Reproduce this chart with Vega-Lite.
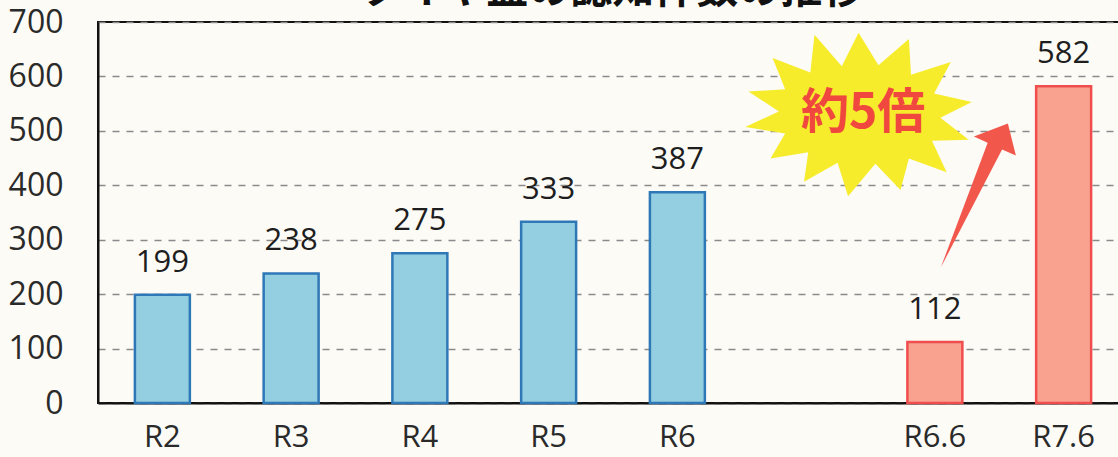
{
  "$schema": "https://vega.github.io/schema/vega-lite/v6.json",
  "autosize": "none",
  "width": 1030,
  "height": 381,
  "padding": {"left": 98, "top": 22, "right": 0, "bottom": 54},
  "background": "#fcfbf6",
  "title": {
    "text": "タイヤ盗の認知件数の推移",
    "font": "Noto Sans CJK JP",
    "fontSize": 42,
    "fontWeight": "bold",
    "color": "#111111",
    "anchor": "middle",
    "baseline": "alphabetic",
    "offset": -39
  },
  "config": {
    "view": {"stroke": "#111111", "strokeWidth": 2},
    "axis": {"labelFont": "Open Sans", "labelColor": "#2a2a2a"}
  },
  "datasets": {
    "bars": [
      {"cat": "R2", "value": 199, "group": "annual"},
      {"cat": "R3", "value": 238, "group": "annual"},
      {"cat": "R4", "value": 275, "group": "annual"},
      {"cat": "R5", "value": 333, "group": "annual"},
      {"cat": "R6", "value": 387, "group": "annual"},
      {"cat": "R6.6", "value": 112, "group": "half"},
      {"cat": "R7.6", "value": 582, "group": "half"}
    ],
    "star": [{"cat": "gap", "value": 530, "label": "約5倍"}],
    "arrow": [{"cat": "R6.6", "value": 400}]
  },
  "encoding": {
    "x": {
      "field": "cat",
      "type": "nominal",
      "scale": {"domain": ["R2", "R3", "R4", "R5", "R6", "gap", "R6.6", "R7.6"], "paddingInner": 0.573, "paddingOuter": 0.2865},
      "axis": {
        "title": null,
        "labelAngle": 0,
        "ticks": false,
        "labelFontSize": 31,
        "labelPadding": 19,
        "domainColor": "#111111",
        "domainWidth": 2,
        "labelExpr": "datum.value == 'gap' ? '' : datum.value"
      }
    },
    "y": {
      "field": "value",
      "type": "quantitative",
      "scale": {"domain": [0, 700], "nice": false},
      "axis": {
        "title": null,
        "values": [0, 100, 200, 300, 400, 500, 600, 700],
        "ticks": false,
        "labelFontSize": 32,
        "labelPadding": 35,
        "domainColor": "#111111",
        "domainWidth": 2,
        "gridColor": "#8a8a8a",
        "gridDash": [7, 7],
        "gridWidth": 1.3
      }
    }
  },
  "layer": [
    {
      "data": {"name": "bars"},
      "mark": {"type": "bar", "strokeWidth": 2.5},
      "encoding": {
        "fill": {"field": "group", "type": "nominal", "scale": {"domain": ["annual", "half"], "range": ["#93cfe0", "#f9a290"]}, "legend": null},
        "stroke": {"field": "group", "type": "nominal", "scale": {"domain": ["annual", "half"], "range": ["#2f78b8", "#f04e4e"]}, "legend": null}
      }
    },
    {
      "data": {"name": "bars"},
      "mark": {"type": "text", "font": "Open Sans", "fontSize": 31, "baseline": "alphabetic", "dy": -23, "color": "#1e1e1e"},
      "encoding": {"text": {"field": "value", "type": "quantitative"}}
    },
    {
      "data": {"name": "star"},
      "mark": {
        "type": "point",
        "filled": true,
        "opacity": 1,
        "fill": "#f7ec2b",
        "strokeWidth": 0,
        "size": 44000,
        "shape": "M0.5,-0.78 L0.69,-0.47 L0.98,-0.72 L1.0,-0.38 L1.38,-0.5 L1.22,-0.2 L1.58,-0.12 L1.28,0.03 L1.55,0.24 L1.2,0.25 L1.34,0.55 L0.98,0.42 L0.9,0.72 L0.66,0.47 L0.4,0.78 L0.3,0.46 L-0.02,0.64 L0.02,0.36 L-0.34,0.42 L-0.2,0.18 L-0.58,0.12 L-0.26,-0.03 L-0.55,-0.22 L-0.2,-0.24 L-0.32,-0.54 L0.04,-0.4 L0.08,-0.76 L0.34,-0.46 Z"
      },
      "encoding": {}
    },
    {
      "data": {"name": "star"},
      "mark": {"type": "text", "font": "Noto Sans CJK JP", "fontWeight": "bold", "fontSize": 48, "color": "#f0473f", "dx": 57, "dy": -1, "baseline": "middle", "align": "center"},
      "encoding": {"text": {"field": "label", "type": "nominal"}}
    },
    {
      "data": {"name": "arrow"},
      "mark": {
        "type": "point",
        "filled": true,
        "opacity": 1,
        "fill": "#f2574c",
        "strokeWidth": 0,
        "size": 40000,
        "shape": "M0.06,0.82 L0.528,-0.426 L0.39,-0.487 L0.73,-0.617 L0.81,-0.297 L0.672,-0.358 Z"
      },
      "encoding": {}
    }
  ]
}
